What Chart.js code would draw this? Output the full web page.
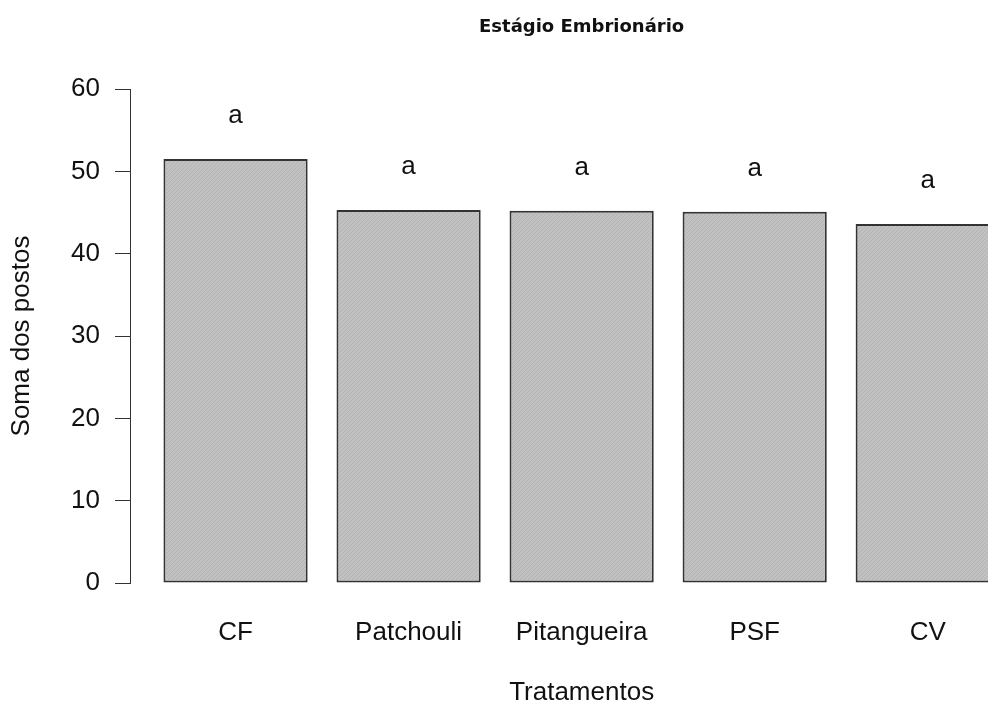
<!DOCTYPE html>
<html>
<head>
<meta charset="utf-8">
<script src="https://cdn.jsdelivr.net/npm/chart.js@4/dist/chart.umd.min.js"></script>
<style>
  html, body { margin: 0; padding: 0; background: #ffffff; }
  #wrap { width: 988px; height: 702px; }
</style>
</head>
<body>
<div id="wrap"><canvas id="chart" width="988" height="702"></canvas></div>
<script>
// Sum of ranks per treatment (Kruskal-Wallis style), with group letters
const categories = ['CF', 'Patchouli', 'Pitangueira', 'PSF', 'CV'];
const rankSums   = [51.5, 45.3, 45.2, 45.1, 43.6];
const groupLetters = ['a', 'a', 'a', 'a', 'a'];
const yTicks = [0, 10, 20, 30, 40, 50, 60];

const chartTitle = 'Estágio Embrionário';
const xTitle = 'Tratamentos';
const yTitle = 'Soma dos postos';

// barplot layout: bars of width 1 separated by a space of 0.2
const BAR_SPACE = 0.2;
const barCenter = i => BAR_SPACE + 0.5 + i * (1 + BAR_SPACE);

// fine 45-degree shading inside the bars
function makeHatch() {
  const n = 4;
  const c = document.createElement('canvas');
  c.width = n; c.height = n;
  const g = c.getContext('2d');
  g.fillStyle = '#c1c1c1';
  g.fillRect(0, 0, n, n);
  g.fillStyle = '#b3b3b3';
  for (let i = 0; i < n; i++) g.fillRect(i, n - 1 - i, 1, 1);
  return document.getElementById('chart').getContext('2d').createPattern(c, 'repeat');
}

const FAMILY = '"Liberation Sans", Arial, sans-serif';
const textFont = '26px ' + FAMILY;

const annotations = {
  id: 'annotations',
  afterDraw(chart) {
    const ctx = chart.ctx;
    const xs = chart.scales.x, ys = chart.scales.y;
    ctx.save();
    ctx.fillStyle = '#111';
    // letters above each bar
    ctx.font = textFont;
    ctx.textAlign = 'center';
    ctx.textBaseline = 'alphabetic';
    rankSums.forEach((v, i) => {
      ctx.fillText(groupLetters[i], xs.getPixelForValue(barCenter(i)), ys.getPixelForValue(v) - 36);
    });
    // centre of the full plotting region (it runs past the right edge)
    const cx = xs.getPixelForValue(barCenter(2));
    // main title
    ctx.font = 'bold 18px "DejaVu Sans", sans-serif';
    ctx.fillText(chartTitle, cx, 31.5);
    // x axis title
    ctx.font = textFont;
    ctx.fillText(xTitle, cx, 700);
    // y axis title
    ctx.translate(29, (chart.chartArea.top + chart.chartArea.bottom) / 2);
    ctx.rotate(-Math.PI / 2);
    ctx.fillText(yTitle, 0, 0);
    ctx.restore();
  }
};

new Chart(document.getElementById('chart'), {
  type: 'bar',
  data: {
    datasets: [{
      data: rankSums.map((v, i) => ({ x: barCenter(i), y: v })),
      backgroundColor: makeHatch(),
      borderColor: '#333333',
      borderWidth: 2,
      borderSkipped: false,
      categoryPercentage: 1,
      barPercentage: 1 / (1 + BAR_SPACE)
    }]
  },
  options: {
    responsive: false,
    devicePixelRatio: 1,
    animation: false,
    layout: { padding: { top: 89, left: 0, right: 0, bottom: 0 } },
    plugins: { legend: { display: false }, tooltip: { enabled: false }, title: { display: false } },
    scales: {
      x: {
        type: 'linear',
        min: -0.032,
        max: 5.918,
        offset: false,
        grid: { display: false },
        border: { display: false },
        afterBuildTicks: s => { s.ticks = categories.map((c, i) => ({ value: barCenter(i) })); },
        afterFit: s => { s.height = 119; },
        ticks: {
          autoSkip: false,
          maxRotation: 0,
          padding: 26,
          color: '#111',
          font: { family: FAMILY, size: 26 },
          callback: (v, i) => categories[i]
        }
      },
      y: {
        min: 0,
        max: 60,
        afterBuildTicks: s => { s.ticks = yTicks.map(v => ({ value: v })); },
        afterFit: s => { s.width = 130; },
        grid: { drawOnChartArea: false, drawTicks: true, tickLength: 15, color: '#333', lineWidth: 1 },
        border: { display: true, color: '#333', width: 1 },
        ticks: {
          padding: 15,
          color: '#111',
          font: { family: FAMILY, size: 26 }
        }
      }
    }
  },
  plugins: [annotations]
});
</script>
</body>
</html>
